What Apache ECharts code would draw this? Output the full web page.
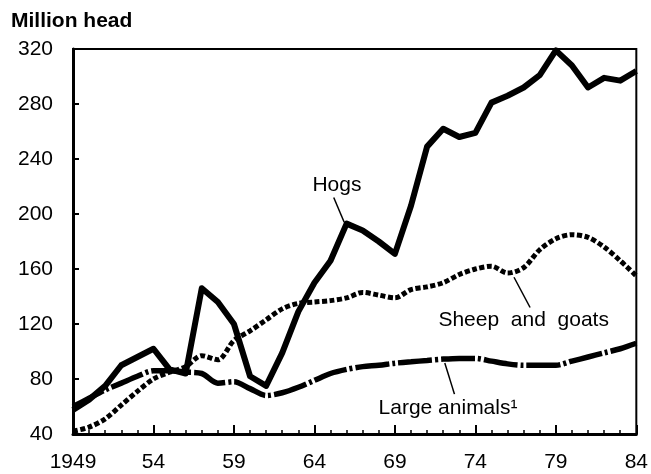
<!DOCTYPE html>
<html>
<head>
<meta charset="utf-8">
<script src="https://cdn.jsdelivr.net/npm/echarts/dist/echarts.min.js"></script>
<style>
  html, body { margin: 0; padding: 0; background: #fff; }
  #chart { width: 651px; height: 474px; }
</style>
</head>
<body>
<div id="chart"></div>
<script>
  // years 1949-1984
  const years = [1949, 1950, 1951, 1952, 1953, 1954, 1955, 1956, 1957, 1958, 1959, 1960,
    1961, 1962, 1963, 1964, 1965, 1966, 1967, 1968, 1969, 1970, 1971, 1972,
    1973, 1974, 1975, 1976, 1977, 1978, 1979, 1980, 1981, 1982, 1983, 1984];
  // million head
  const hogs = [57.5, 65, 75, 90, 96, 102, 87, 84, 146, 136, 120, 82,
    75, 99, 129, 150, 166, 193, 188, 180, 171, 206, 249, 262,
    256, 259, 281, 286, 292, 301, 319, 308, 292, 299, 297, 304];
  const sheepGoats = [42, 45, 51, 61, 71, 80, 85, 89, 97, 94, 108, 115,
    123, 131, 135, 136, 137, 139, 143, 141, 139, 145, 147, 150,
    156, 160, 162, 157, 161, 174, 182, 185, 183, 176, 166, 155];
  const largeAnimals = [60, 66, 72, 77, 82, 86, 86, 85, 84, 77, 78, 73,
    68, 70, 74, 79, 84, 87, 89, 90, 91.5, 92.5, 93.5, 94.5,
    95, 95, 93, 91, 90, 90, 90, 93, 96, 99, 102, 106];
  const yTicks = [40, 80, 120, 160, 200, 240, 280, 320];

  // annotation: text anchor and leader line (data coords)
  const notes = [
    { text: 'Hogs', at: [1965.4, 221], from: [1965.2, 212], to: [1965.85, 194] },
    { text: 'Sheep  and  goats', at: [1977.0, 123], from: [1977.4, 132], to: [1976.4, 154] },
    { text: 'Large animals\u00b9', at: [1972.3, 59], from: [1972.7, 69], to: [1972.1, 91.6] }
  ];

  const font = 'Liberation Sans, Arial, sans-serif';
  const pair = arr => years.map((y, i) => [y, arr[i]]);

  const chart = echarts.init(document.getElementById('chart'));
  const option = {
    animation: false,
    title: {
      text: 'Million head',
      left: 11,
      top: 11,
      padding: 0,
      textStyle: { fontSize: 21, fontWeight: 'bold', color: '#000', fontFamily: font }
    },
    grid: {
      left: 73, right: 11, top: 49, bottom: 40,
      show: true, borderColor: '#000', borderWidth: 2
    },
    xAxis: {
      type: 'value',
      min: 1949,
      max: 1984,
      interval: 5,
      axisLine: { lineStyle: { color: '#000', width: 3 } },
      axisTick: { inside: true, length: 9, lineStyle: { color: '#000', width: 2 } },
      minorTick: { show: true, splitNumber: 5, length: 4, lineStyle: { color: '#000', width: 1.5 } },
      splitLine: { show: false },
      axisLabel: {
        color: '#000', fontSize: 21, fontFamily: font, margin: 18,
        formatter: function (v) { return v === 1949 ? '1949' : String(v).slice(2); }
      }
    },
    yAxis: {
      type: 'value',
      min: yTicks[0],
      max: yTicks[yTicks.length - 1],
      interval: 40,
      axisLine: { show: true, lineStyle: { color: '#000', width: 3 } },
      axisTick: { show: true, inside: true, length: 6, lineStyle: { color: '#000', width: 2 } },
      splitLine: { show: false },
      axisLabel: { color: '#000', fontSize: 21, fontFamily: font, margin: 20 }
    },
    series: [
      {
        name: 'Hogs', type: 'line', showSymbol: false,
        lineStyle: { color: '#000', width: 6, join: 'round' },
        data: pair(hogs)
      },
      {
        name: 'Sheep and goats', type: 'line', showSymbol: false, smooth: 0.3,
        lineStyle: { color: '#000', width: 5, type: [5, 2.5], cap: 'butt' },
        data: pair(sheepGoats)
      },
      {
        name: 'Large animals', type: 'line', showSymbol: false, smooth: 0.3,
        lineStyle: { color: '#000', width: 5.5, type: [34, 3, 3, 3], cap: 'butt' },
        data: pair(largeAnimals)
      }
    ]
  };
  chart.setOption(option);

  // place annotation texts and leader lines from data coords
  const graphic = [];
  notes.forEach(function (n) {
    const p = chart.convertToPixel({ gridIndex: 0 }, n.at);
    const a = chart.convertToPixel({ gridIndex: 0 }, n.from);
    const b = chart.convertToPixel({ gridIndex: 0 }, n.to);
    graphic.push({
      type: 'text', x: p[0], y: p[1],
      style: {
        text: n.text, fill: '#000', fontSize: 21, fontFamily: font,
        align: 'center', verticalAlign: 'middle'
      }
    });
    graphic.push({
      type: 'line',
      shape: { x1: a[0], y1: a[1], x2: b[0], y2: b[1] },
      style: { stroke: '#000', lineWidth: 1.5 }
    });
  });
  chart.setOption({ graphic: graphic });
</script>
</body>
</html>
